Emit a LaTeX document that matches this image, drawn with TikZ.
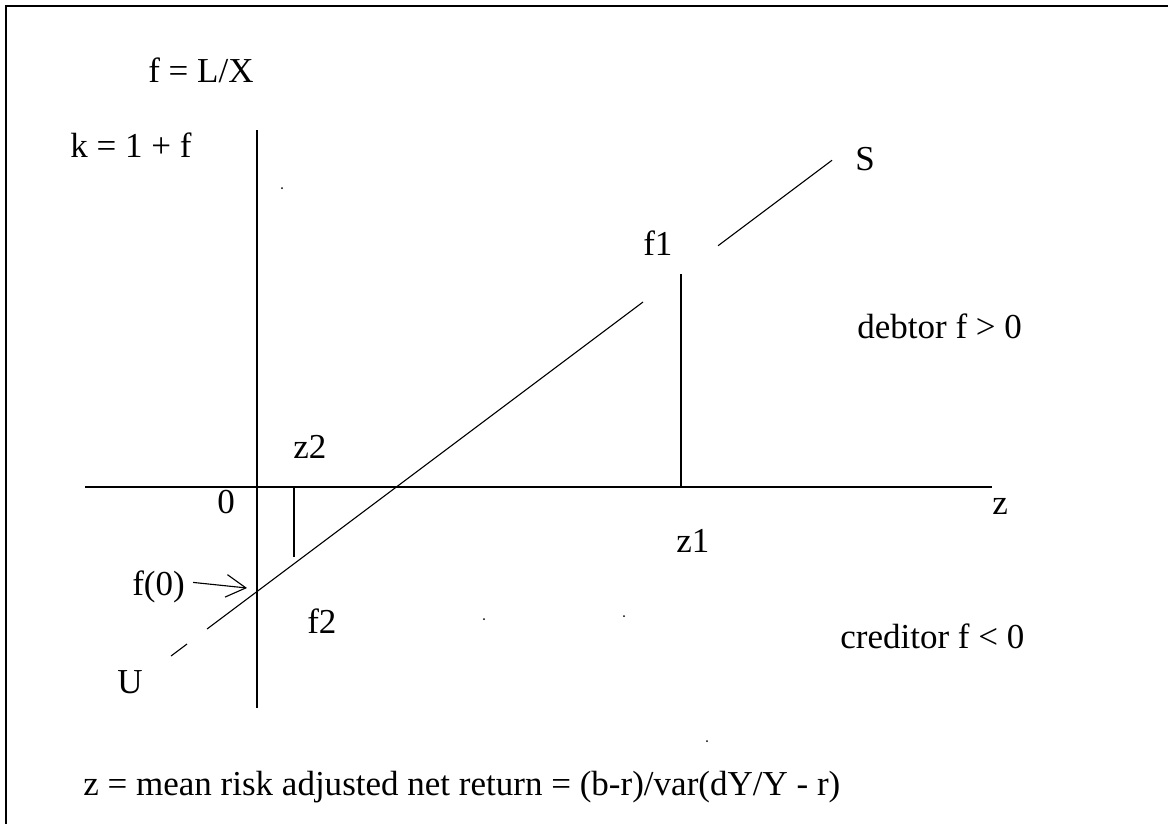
\documentclass[tikz,border=0pt]{standalone}
\usepackage{fontspec}
\setmainfont{Liberation Serif}
\usetikzlibrary{arrows.meta}

\begin{document}
\begin{tikzpicture}[x = {(0.025cm,0cm)},
  y = {(0cm,-0.025cm)},
  lbl/.style={anchor=base west, inner sep=0pt, font=\fontsize{24.9}{30}\selectfont},
  axis/.style={line width=1.3pt},
  sline/.style={line width=0.8pt}]

  % page and frame
  \useasboundingbox (0,0) rectangle (1168,824);
  \draw[line width=1.8pt] (1168,6) -- (6,6) -- (6,824);

  % line U-S: y = \ly - \sl*(x-\lx)
  \def\lx{207}
  \def\ly{629}
  \def\sl{0.75}

  % axes
  \coordinate (ktop) at (257,130);
  \coordinate (kbot) at (257,708);
  \coordinate (zleft) at (85,487);
  \coordinate (zright) at (992,487);
  \draw[axis] (ktop) -- (kbot);
  \draw[axis] (zleft) -- (zright);

  % the line, in three pieces
  \foreach \a/\b in {171/187, 207/643, 718/832}
  \draw[sline] (\a,{\ly-\sl*(\a-\lx)}) -- (\b,{\ly-\sl*(\b-\lx)});

  % drop lines at z1 and z2
  \coordinate (fonetop) at (681,274);
  \coordinate (fonebot) at (681,487);
  \coordinate (ftwotop) at (294,487);
  \coordinate (ftwobot) at (294,557);
  \draw[axis] (fonetop) -- (fonebot);
  \draw[axis] (ftwotop) -- (ftwobot);

  % labels
  \node[lbl] (fdef) at (148,82) {f = L/X};
  \node[lbl] (kdef) at (70,157) {k = 1 + f};
  \node[lbl] (zero) at (217,513) {0};
  \node[lbl] (zlab) at (992,514) {z};
  \node[lbl] (ztwo) at (293,458) {z2};
  \node[lbl] (zone) at (676,552) {z1};
  \node[lbl] (fone) at (643,255) {f1};
  \node[lbl] (ftwo) at (307,633) {f2};
  \node[lbl] (slab) at (855,170) {S};
  \node[lbl] (ulab) at (117,693) {U};
  \node[lbl] (debtor) at (857,338) {debtor f > 0};
  \node[lbl] (creditor) at (840,648) {creditor f < 0};
  \node[lbl] (zdef) at (83,795) {z = mean risk adjusted net return = (b-r)/var(dY/Y - r)};

  % f(0) pointer
  \node[lbl] (fzero) at (132,595) {f(0)};
  \coordinate (fzerotip) at (247,588);
  \draw[->, >={Straight Barb[length=14pt,width=16pt]}, line width=0.8pt]
  ([xshift=0.2cm,yshift=0.1cm]fzero.east) -- (fzerotip);

  % stray dots
  \foreach \x/\y in {282/188, 484/619, 624/616, 707/741}
  \fill (\x,\y) circle (1);

\end{tikzpicture}
\end{document}
